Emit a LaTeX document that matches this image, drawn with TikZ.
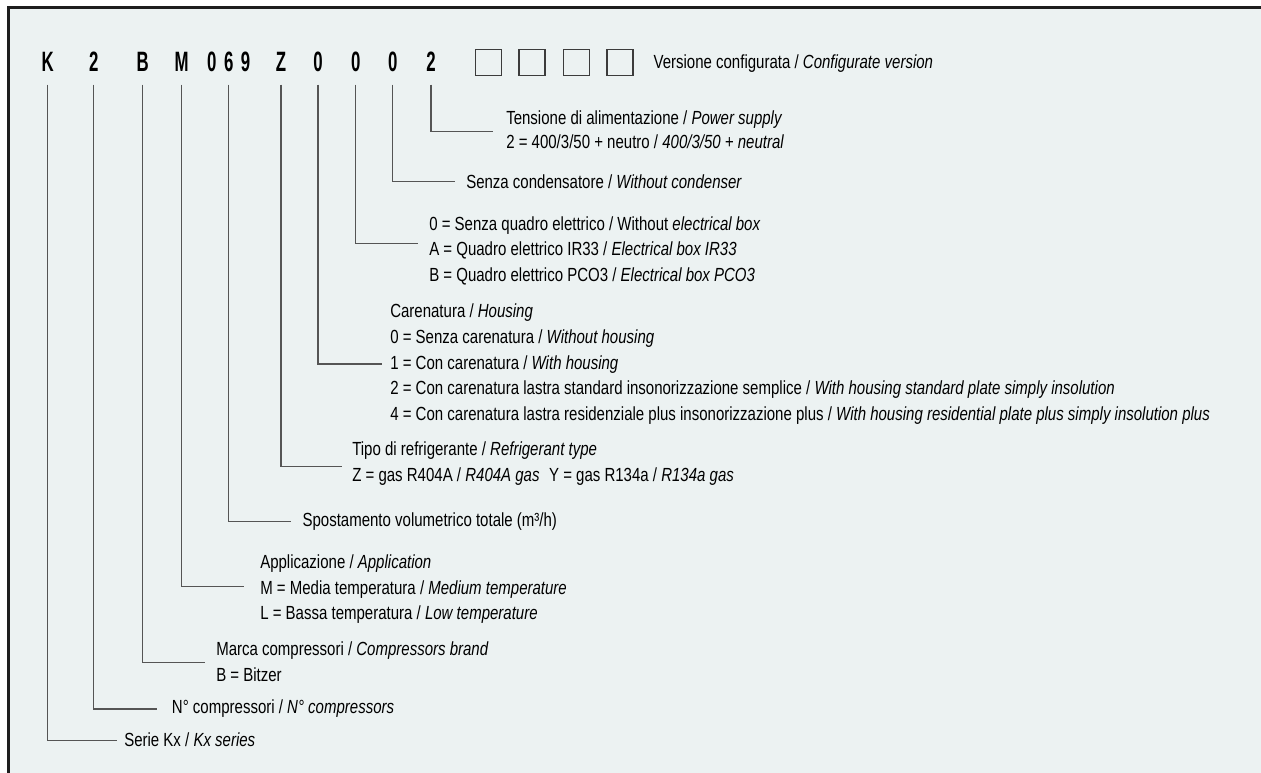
\documentclass[tikz,border=0pt]{standalone}
\usepackage{fontspec}
\setmainfont{Liberation Sans}[FakeStretch=0.79]
\newfontfamily\codefont{Liberation Sans}[FakeStretch=0.6]
\definecolor{bgcol}{RGB}{236,242,242}
\definecolor{framecol}{RGB}{30,30,30}
\definecolor{linecol}{RGB}{85,85,85}
\definecolor{boxcol}{RGB}{60,60,60}
\newcommand\desclines[1]{\begin{tabular}[t]{@{}l@{}}#1\end{tabular}}
\begin{document}
\begin{tikzpicture}[x=0.75pt,y=-0.75pt,
  codeletter/.style={font=\codefont\bfseries\fontsize{21}{21}\selectfont, inner sep=0pt, anchor=base, text depth=9.45pt, text=black},
  desc/.style={font=\fontsize{14.25}{19.2}\selectfont, inner sep=0pt, anchor=base west, text=black},
  cbox/.style={draw=boxcol, line width=0.8pt, minimum size=19.5pt, inner sep=0pt},
  link/.style={draw=linecol, line width=1pt}]
\useasboundingbox (0,0) rectangle (1261,773);
% background and frame
\fill[bgcol] (8,8) rectangle (1261,773);
\draw[framecol, line width=2.25pt] (1261,8) -- (8,8) -- (8,773);

% code letters
\node[codeletter] (cK)  at (47.7,71.7) {K};
\node[codeletter] (cN)  at (93.7,71.7) {2};
\node[codeletter] (cB)  at (142.7,71.7) {B};
\node[codeletter] (cM)  at (181.7,71.7) {M};
\node[codeletter] (cV)  at (228.7,71.7) {0\kern5.6pt6\kern5.6pt9};
\node[codeletter] (cZ)  at (281,71.7) {Z};
\node[codeletter] (cH)  at (318,71.7) {0};
\node[codeletter] (cE)  at (355.7,71.7) {0};
\node[codeletter] (cC)  at (392.7,71.7) {0};
\node[codeletter] (cP)  at (431,71.7) {2};

% configuration boxes
\node[cbox] (b1) at (488.3,62.8) {};
\node[cbox] (b2) at (532,62.8) {};
\node[cbox] (b3) at (576.3,62.8) {};
\node[cbox] (b4) at (620,62.8) {};
\node[desc] (dver) at (653.3,68.5) {Versione configurata / \textit{Configurate version}};

% descriptions
\node[desc] (dP) at (506,125) {\desclines{Tensione di alimentazione / \textit{Power supply}\\[-1.4pt]
  2 = 400/3/50 + neutro / \textit{400/3/50 + neutral}}};
\node[desc] (dC) at (466,188.7) {Senza condensatore / \textit{Without condenser}};
\node[desc] (dE) at (429,230.3) {\desclines{0 = Senza quadro elettrico / Without \textit{electrical box}\\
  A = Quadro elettrico IR33 / \textit{Electrical box IR33}\\
  B = Quadro elettrico PCO3 / \textit{Electrical box PCO3}}};
\node[desc] (dH) at (390,318) {\desclines{Carenatura / \textit{Housing}\\
  0 = Senza carenatura / \textit{Without housing}\\
  1 = Con carenatura / \textit{With housing}\\
  2 = Con carenatura lastra standard insonorizzazione semplice / \textit{With housing standard plate simply insolution}\\
  4 = Con carenatura lastra residenziale plus insonorizzazione plus / \textit{With housing residential plate plus simply insolution plus}}};
\node[desc] (dZ) at (352,456) {\desclines{Tipo di refrigerante / \textit{Refrigerant type}\\
  Z = gas R404A / \textit{R404A gas}\enspace Y = gas R134a / \textit{R134a gas}}};
\node[desc] (dV) at (302.3,527) {Spostamento volumetrico totale (m³/h)};
\node[desc] (dM) at (260,568.7) {\desclines{Applicazione / \textit{Application}\\
  M = Media temperatura / \textit{Medium temperature}\\
  L = Bassa temperatura / \textit{Low temperature}}};
\node[desc] (dB) at (216,655.3) {\desclines{Marca compressori / \textit{Compressors brand}\\[0.5pt]
  B = Bitzer}};
\node[desc] (dN) at (171.7,713.7) {N° compressori / \textit{N° compressors}};
\node[desc] (dK) at (124,746.3) {Serie Kx / \textit{Kx series}};

% connector ends
\coordinate (eP) at (492.7,131.7);
\coordinate (eC) at (455,181.7);
\coordinate (eE) at (417.7,243.3);
\coordinate (eH) at (381.7,364);
\coordinate (eZ) at (341.7,466.7);
\coordinate (eV) at (291,521.7);
\coordinate (eM) at (244.3,586.7);
\coordinate (eB) at (205,662.3);
\coordinate (eN) at (157.3,709);
\coordinate (eK) at (116.7,740.7);

% connectors
\draw[link] (cP.south) |- (eP);
\draw[link] (cC.south) |- (eC);
\draw[link] (cE.south) |- (eE);
\draw[link] (cH.south) |- (eH);
\draw[link] (cZ.south) |- (eZ);
\draw[link] (cV.south) |- (eV);
\draw[link] (cM.south) |- (eM);
\draw[link] (cB.south) |- (eB);
\draw[link] (cN.south) |- (eN);
\draw[link] (cK.south) |- (eK);
\end{tikzpicture}
\end{document}
